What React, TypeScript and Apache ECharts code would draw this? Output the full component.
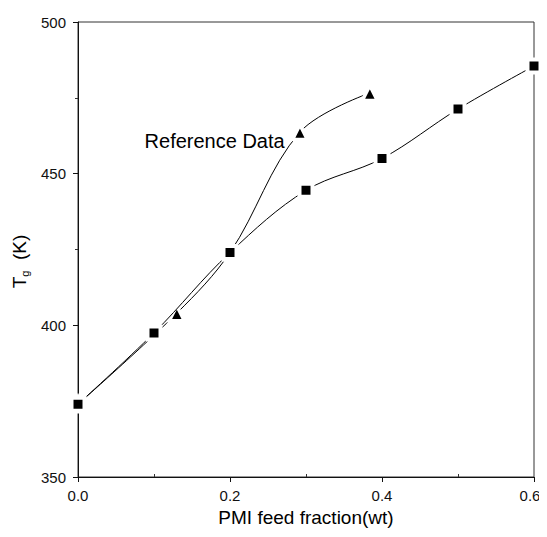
import React, { useEffect, useRef } from "react";
import * as echarts from "echarts";

const squareX = [0.0, 0.1, 0.2, 0.3, 0.4, 0.5, 0.6];
const squareY = [374, 397.5, 424, 444.5, 455, 471.3, 485.5];
const triangleX = [0.0, 0.13, 0.2, 0.292, 0.384];
const triangleY = [374, 404, 424, 463.7, 476.6];
const xTicks = ["0.0", "0.2", "0.4", "0.6"];
const xMinorTicks = [0.1, 0.3, 0.5];
const yTicks = ["350", "400", "450", "500"];
const refLabel = "Reference Data";

export default function App() {
  const ref = useRef<HTMLDivElement>(null);
  useEffect(() => {
    if (!ref.current) return;
    const chart = echarts.init(ref.current, undefined, { renderer: "svg" });
    const font = "Arial, 'Liberation Sans', sans-serif";
    const sq = squareX.map((x, i) => [x, squareY[i]]);
    const tr = triangleX.map((x, i) => ({
      value: [x, triangleY[i]],
      label:
        i === 3
          ? {
              show: true,
              formatter: refLabel,
              position: "left",
              distance: 6,
              offset: [0, 9],
              color: "#000",
              fontSize: 20,
              fontFamily: font,
            }
          : { show: false },
    }));
    chart.setOption({
      animation: false,
      backgroundColor: "#fff",
      grid: {
        left: 78,
        right: 13,
        top: 22,
        bottom: 60,
        show: true,
        borderColor: "#333",
        borderWidth: 1,
      },
      xAxis: [
        {
          type: "value",
          min: 0,
          max: 0.6,
          interval: 0.2,
          name: "PMI feed fraction(wt)",
          nameLocation: "middle",
          nameGap: 31,
          nameTextStyle: { fontSize: 19, color: "#000", fontFamily: font },
          axisLine: { show: true, onZero: false, lineStyle: { color: "#111", width: 1 } },
          axisTick: { show: true, length: 5, lineStyle: { color: "#111" } },
          splitLine: { show: false },
          axisLabel: {
            fontSize: 15,
            color: "#111",
            fontFamily: font,
            margin: 11,
            formatter: (v: number) => {
              const t = xTicks.find((s) => Math.abs(parseFloat(s) - v) < 1e-6) ?? "";
              return t === xTicks[xTicks.length - 1] ? `{last|${t}}` : t;
            },
            rich: {
              last: { fontSize: 15, color: "#111", fontFamily: font, padding: [0, 8, 0, 0] },
            },
          },
        },
        {
          type: "value",
          min: 0,
          max: 0.6,
          position: "bottom",
          axisLine: { show: false },
          axisTick: {
            show: true,
            inside: true,
            length: 3,
            customValues: xMinorTicks,
            lineStyle: { color: "#333" },
          },
          axisLabel: { show: false },
          splitLine: { show: false },
        },
      ],
      yAxis: {
        type: "value",
        min: 350,
        max: 500,
        interval: 50,
        name: "T{sub|g}  (K)",
        nameLocation: "middle",
        nameGap: 47,
        nameRotate: 90,
        nameTextStyle: {
          fontSize: 19,
          color: "#000",
          fontFamily: font,
          padding: [0, 24, 0, 0],
          rich: {
            sub: { fontSize: 11, fontFamily: font, color: "#000", padding: [10, 0, 0, 0] },
          },
        },
        axisLine: { show: true, onZero: false, lineStyle: { color: "#111", width: 1 } },
        axisTick: { show: true, length: 5, lineStyle: { color: "#111" } },
        minorTick: { show: true, splitNumber: 2, length: 3, lineStyle: { color: "#333" } },
        splitLine: { show: false },
        axisLabel: {
          fontSize: 15,
          color: "#111",
          fontFamily: font,
          margin: 12,
          formatter: (v: number) => yTicks.find((t) => parseFloat(t) === v) ?? "",
        },
      },
      series: [
        {
          type: "line",
          data: tr,
          smooth: 0.35,
          symbol: "triangle",
          symbolSize: 15,
          lineStyle: { color: "#000", width: 1 },
          itemStyle: { color: "#000", borderColor: "#fff", borderWidth: 3.5 },
          z: 2,
        },
        {
          type: "line",
          data: sq,
          smooth: 0.35,
          symbol: "rect",
          symbolSize: 13,
          lineStyle: { color: "#000", width: 1 },
          itemStyle: { color: "#000", borderColor: "#fff", borderWidth: 4 },
          z: 3,
        },
      ],
    });
    return () => chart.dispose();
  }, []);
  return <div ref={ref} style={{ width: 547, height: 537, margin: -8 }} />;
}
